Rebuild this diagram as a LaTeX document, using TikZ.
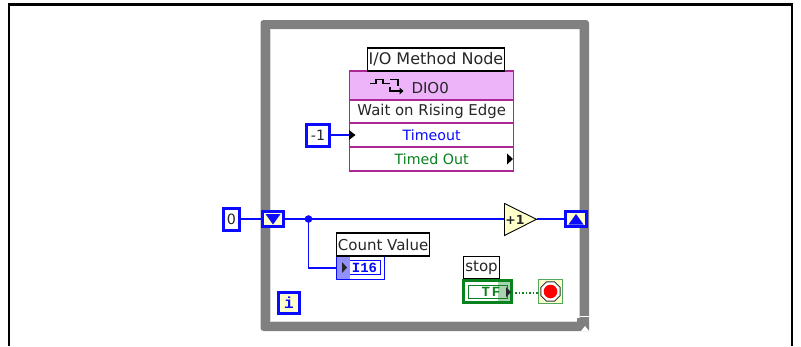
\documentclass[tikz,border=0pt]{standalone}
\usepackage{fontspec}
\setmainfont{DejaVu Sans}
\setmonofont{Liberation Mono}
\usetikzlibrary{shapes.geometric}
\definecolor{lvblue}{RGB}{10,10,255}
\definecolor{lvmag}{RGB}{170,40,150}
\definecolor{lvpink}{RGB}{238,180,250}
\definecolor{lvyel}{RGB}{255,255,204}
\definecolor{lvgreen}{RGB}{10,130,30}
\definecolor{loopgray}{RGB}{128,128,128}
\newcommand{\rowfont}{\fontsize{14.2}{14.2}\selectfont}
\newcommand{\lblfont}{\fontsize{15}{15}\selectfont}
\tikzset{
  x=1pt,y=-1pt,
  every node/.style={outer sep=0pt,inner sep=0pt},
  lbl/.style={draw=black,line width=1.1pt,fill=white,font=\lblfont,text=black!85},
  rowbox/.style={draw=lvmag,line width=1.5pt,fill=white,minimum width=164pt,font=\rowfont},
  const/.style={draw=lvblue,line width=3pt,fill=white,font=\rowfont,text=black!85},
  shreg/.style={draw=lvblue,line width=3pt,fill=lvyel,minimum width=21pt,minimum height=15.5pt},
  bwire/.style={draw=lvblue,line width=1.5pt},
  gwire/.style={draw=lvgreen,line width=1.5pt,dotted}
}
\begin{document}
\begin{tikzpicture}
\useasboundingbox (0,0) rectangle (801,346);
% page frame
\draw[black,line width=2.6pt] (9,346) -- (9,4.5) -- (792,4.5) -- (792,346);
% while loop
\fill[loopgray,even odd rule] (400,331) [rounded corners=3pt] -- (260.5,331) -- (260.5,20) -- (589,20) [sharp corners] -- (589,331) -- cycle
  (270,29) rectangle (579.5,322);
\draw[black!15,line width=0.8pt] (270,29.5) -- (270,321.6) -- (577,321.6);
\fill[white] (579.5,315.7) rectangle (589,317.3);
\fill[loopgray] (577,318.2) rectangle (589,322);
\fill[white] (585,326) -- (589,331) -- (581,331) -- cycle;

% method node
\node[rowbox,fill=lvpink,minimum height=29pt,anchor=north west] (hdr) at (349.7,71) {};
\node[rowbox,minimum height=23pt,anchor=north west,text=black!85,font=\fontsize{14.9}{14.9}\selectfont] (r1) at (349.7,100) {Wait on Rising Edge};
\node[rowbox,minimum height=24pt,anchor=north west,text=lvblue] (r2) at (349.7,123) {Timeout};
\node[rowbox,minimum height=24pt,anchor=north west,text=lvgreen] (r3) at (349.7,147) {Timed Out};
\node[lbl,minimum width=137pt,minimum height=23pt,anchor=north west,font=\fontsize{16}{16}\selectfont] (mlbl) at (367.5,48) {I/O Method Node};
\node[font=\fontsize{15}{15}\selectfont,text=black!85,anchor=west] (dio) at (411.5,88) {DIO0};
\draw[black,line width=1.1pt] (370,83.5) -- (376,83.5) -- (376,79.5) -- (383,79.5) -- (383,83.5) -- (390,83.5) (390,79.5) -- (398,79.5) -- (398,86) (390,87) -- (390,91) -- (400,91);
\fill[black] (399.5,87.5) -- (403.5,91) -- (399.5,94.5) -- cycle;
\fill[black] (507,153.5) -- (513,159) -- (507,164.5) -- cycle;

% -1 constant
\node[const,minimum width=23.5pt,minimum height=22pt] (m1) at (318,135) {-1};
\draw[bwire] (m1.east) -- (349.7,135);
\fill[black] (349,130) -- (355.5,135) -- (349,140) -- cycle;

% 0 constant and shift registers
\node[const,minimum width=16pt,minimum height=22pt] (zero) at (231.5,219) {0};
\node[shreg] (srl) at (273,219) {};
\node[shreg] (srr) at (576,219) {};
\fill[lvblue] (265.5,214) -- (280.5,214) -- (273,224.5) -- cycle;
\fill[lvblue] (568.5,224.5) -- (583.5,224.5) -- (576,214) -- cycle;
\draw[bwire] (zero.east) -- (srl.west);

% increment
\coordinate (incl) at (504.5,219);
\coordinate (incr) at (536.5,219);
\draw[bwire] (srl.east) -- (incl);
\draw[bwire] (incr) -- (srr.west);
\filldraw[draw=black,line width=0.9pt,fill=lvyel] (504.5,203.5) -- (536.5,219.3) -- (504.5,235.5) -- cycle;
\node[font=\bfseries\fontsize{12.5}{12.5}\selectfont,text=black!85] (plus) at (515,219.5) {+1};
\coordinate (junc) at (308.5,219);
\fill[lvblue] (junc) circle (3.8pt);

% indicator
\node[draw=lvblue,line width=1.2pt,fill=white,minimum width=48pt,minimum height=23pt,anchor=north west] (ind) at (336.6,256.5) {};
\draw[lvblue,line width=1pt] (339,260.5) rectangle (380,274.5);
\fill[lvblue!45] (337.2,257.1) rectangle (350,279);
\fill[black!85] (342,262) -- (347,267.5) -- (342,273) -- cycle;
\node[font=\ttfamily\bfseries\fontsize{14}{14}\selectfont,text=lvblue] (i16) at (364.5,267.5) {I16};
\draw[bwire] (junc) |- (ind.west);
\node[lbl,minimum width=93pt,minimum height=23pt,anchor=north west] (clbl) at (336.6,233) {Count Value};

% iteration terminal
\node[const,fill=lvyel,minimum width=21pt,minimum height=21pt,text=lvblue,font=\ttfamily\bfseries\fontsize{16}{16}\selectfont] (iter) at (289,303) {i};

% stop
\node[lbl,minimum width=36pt,minimum height=22pt,anchor=north west] (slbl) at (463.5,256.5) {stop};
\node[draw=lvgreen,line width=3pt,fill=white,minimum width=48pt,minimum height=22pt] (tf) at (487.5,291.5) {};
\draw[lvgreen,line width=0.9pt] (468,285.5) rectangle (507,298.5);
\node[font=\ttfamily\bfseries\fontsize{14}{14}\selectfont,text=lvgreen] (tflab) at (491,292) {T\hspace{2pt}F};
\fill[lvgreen,opacity=.35] (498,281.5) rectangle (511.5,301.5);
\fill[black!85] (506,287) -- (511,292) -- (506,297) -- cycle;
\node[draw=lvgreen!70,line width=1.4pt,fill=lvyel,minimum width=23.5pt,minimum height=23.5pt] (term) at (550.5,291.5) {};
\node[draw=black!80,line width=1pt,fill=white,regular polygon,regular polygon sides=8,minimum size=21pt] (oct) at (term.center) {};
\fill[red] (term.center) circle (6.8pt);
\coordinate (gl) at (511.5,293);
\coordinate (gr) at (538.7,293);
\draw[gwire] (gl) -- (gr);
\end{tikzpicture}
\end{document}
